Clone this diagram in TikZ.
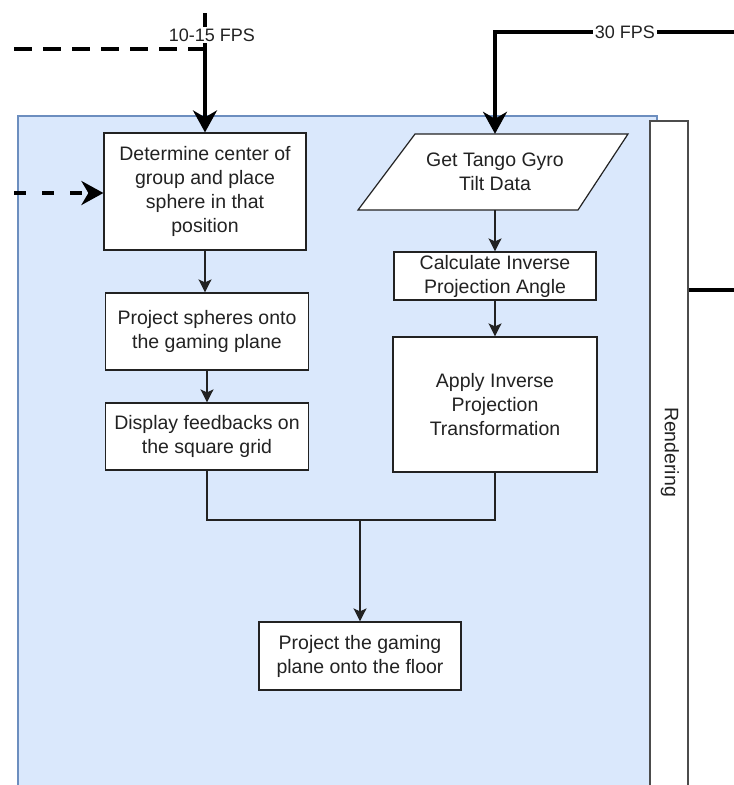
\documentclass[tikz,border=0pt]{standalone}
\usepackage{fontspec}
\setmainfont{Liberation Sans}
\usetikzlibrary{arrows.meta}
\definecolor{panelfill}{HTML}{DAE8FC}
\definecolor{panelline}{HTML}{6C8EBF}
\definecolor{ink}{HTML}{222222}
\tikzset{
  stepbox/.style={draw=ink, line width=1.2pt, fill=white, text=ink, align=center,
    font=\fontsize{19.5}{24}\selectfont, inner sep=0pt},
  flow/.style={draw=ink, line width=1.5pt, -{Stealth[width=13pt,length=13pt,inset=3pt]}},
  plainflow/.style={draw=ink, line width=1.5pt},
  bigflow/.style={draw=black, line width=3.5pt, -{Stealth[width=24pt,length=22pt,inset=7pt]}},
  bigline/.style={draw=black, line width=3.5pt},
  lbl/.style={fill=white, text=ink, inner sep=1.5pt, font=\fontsize{18}{20}\selectfont},
}
\begin{document}
\begin{tikzpicture}[x=1pt,y=-1pt]
\useasboundingbox (0,0) rectangle (734,785);
\clip (0,0) rectangle (734,785);
% container panel and lane label
\node[draw=panelline, fill=panelfill, line width=1.2pt, minimum width=639pt, minimum height=700pt, inner sep=0pt] (panel) at (337.5,466) {};
\node[draw=black!70, fill=white, line width=1.5pt, minimum width=38pt, minimum height=700pt, inner sep=0pt] (strip) at (669,471) {};
\node[rotate=-90, text=ink, font=\fontsize{19.5}{24}\selectfont] (rend) at (670,452) {Rendering};
% left column
\node[stepbox, minimum width=202pt, minimum height=117pt] (b1) at (205,191.5) {Determine center of\\group and place\\sphere in that\\position};
\node[stepbox, minimum width=203pt, minimum height=77pt] (b2) at (207,331.5) {Project spheres onto\\the gaming plane};
\node[stepbox, minimum width=203pt, minimum height=67pt] (b3) at (207,436.5) {Display feedbacks on\\the square grid};
% right column
\draw[draw=ink, line width=1.2pt, fill=white] (415,134) -- (628,134) -- (578,210) -- (358,210) -- cycle;
\node[text=ink, align=center, font=\fontsize{19.5}{24}\selectfont, minimum height=76pt, inner sep=0pt] (gyro) at (495,172) {Get Tango Gyro\\Tilt Data};
\node[stepbox, minimum width=202pt, minimum height=48pt] (calc) at (495,276) {Calculate Inverse\\Projection Angle};
\node[stepbox, minimum width=204pt, minimum height=135pt] (apply) at (495,404.5) {Apply Inverse\\Projection\\Transformation};
% bottom
\node[stepbox, minimum width=202pt, minimum height=68pt] (final) at (360,656) {Project the gaming\\plane onto the floor};
% connectors inside
\draw[flow] (b1.south) -- (b1.south |- b2.north);
\draw[flow] (b2.south) -- (b3.north);
\draw[flow] (gyro.south) -- (calc.north);
\draw[flow] (calc.south) -- (apply.north);
\coordinate (j) at (360,520);
\draw[plainflow] (b3.south) -- (b3.south |- j) -- (apply.south |- j) -- (apply.south);
\draw[flow] (j) -- (final.north);
% inputs from above
\coordinate (t1) at (205,13);
\coordinate (d1) at (14,49);
\coordinate (d2) at (14,193);
\draw[bigflow] (t1) -- (b1.north);
\draw[bigline, dash pattern=on 18pt off 11pt] (d1) -- (b1.north |- d1);
\node[lbl] (l1) at (212,35) {10-15 FPS};
\draw[bigflow, dash pattern=on 12pt off 16pt] (d2) -- (b1.west |- d2);
\coordinate (r1) at (734,32);
\coordinate (c1) at (495,32);
\draw[bigflow] (r1) -- (c1) -- (gyro.north);
\node[lbl] (l2) at (625,32) {30 FPS};
\coordinate (r2) at (734,290);
\draw[bigline] (strip.east |- r2) -- (r2);
\end{tikzpicture}
\end{document}
